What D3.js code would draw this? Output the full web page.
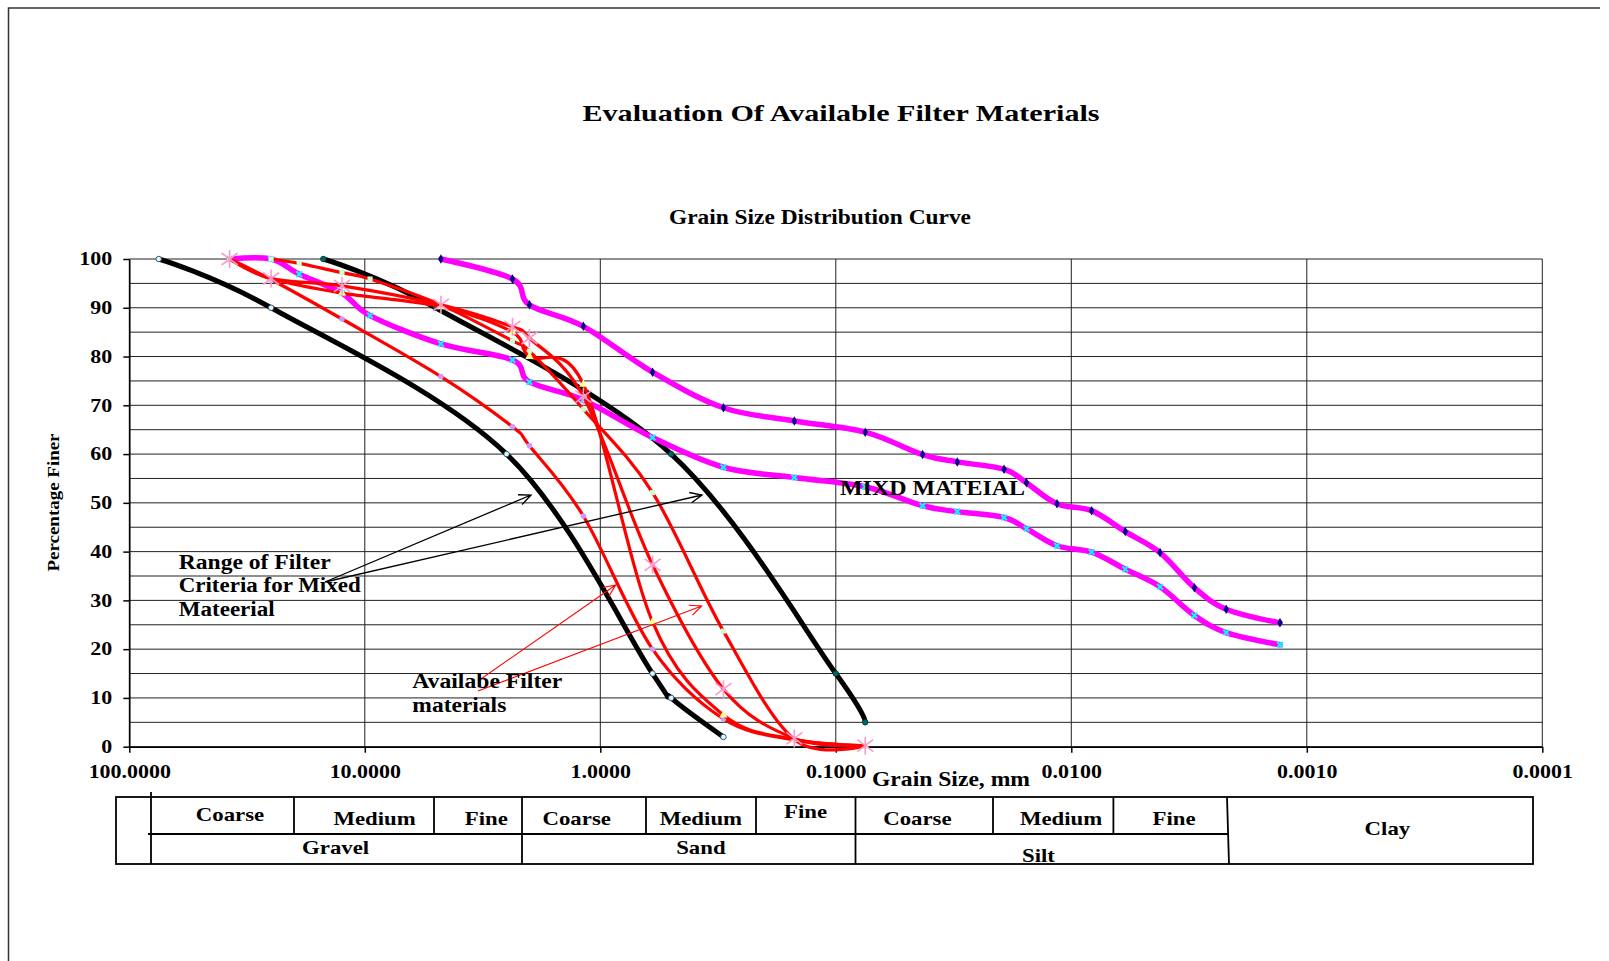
<!DOCTYPE html>
<html>
<head>
<meta charset="utf-8">
<script src="https://cdn.jsdelivr.net/npm/d3@7"></script>
<style>
  body { margin: 0; background: #fff; }
  svg text { font-family: "Liberation Serif", "Times New Roman", serif; font-weight: bold; fill: #000; }
</style>
</head>
<body>
<svg id="chart" width="1609" height="961"></svg>
<script>
// sieve + hydrometer sizes (mm)
const hydroSizes = [0.0428, 0.0305, 0.0193, 0.0155, 0.0115, 0.0082, 0.0059, 0.0042, 0.0030, 0.0022, 0.0013];
const filterSizes = [37.5, 25, 12.5, 4.75, 2.36, 2.0, 1.18, 0.6, 0.3, 0.15, 0.075];
const greenSizes = [25, 19, 12.5, 9.5, 4.75, 2.36, 2.0, 1.18, 0.6, 0.3, 0.15, 0.075];

// filter criteria range (black)
const lowerLimitSizes = [75, 25, 2.5, 0.6, 0.5, 0.3];
const lowerLimitFiner = [100, 90, 60, 15, 10, 2];
const upperLimitSizes = [15, 5, 0.5, 0.1, 0.075];
const upperLimitFiner = [100, 90, 60, 15, 5];

// mixed material (magenta)
const mixUpperSizes = [4.75, 2.36, 2.0, 1.18, 0.6, 0.3, 0.15, 0.075, ...hydroSizes];
const mixUpperFiner = [100, 95.9, 90.6, 86.2, 76.8, 69.5, 66.8, 64.5, 59.9, 58.4, 56.9, 54.1, 49.8, 48.4, 44.1, 39.8, 32.6, 28.2, 25.4];
const mixLowerSizes = [37.5, 25, 19, 12.5, 9.5, 4.75, 2.36, 2.0, 1.18, 0.6, 0.3, 0.15, 0.075, ...hydroSizes];
const mixLowerFiner = [100, 100, 96.9, 93.0, 88.4, 82.6, 79.3, 74.8, 71.1, 63.4, 57.3, 55.2, 53.3, 49.4, 48.2, 47.0, 44.7, 41.2, 39.9, 36.4, 32.8, 26.9, 23.4, 20.9];

// available filter materials (red)
const filterAFiner = [100, 95.8, 87.7, 75.9, 65.6, 61.7, 47.3, 20.0, 5.7, 1.4, 0.2];
const filterBFiner = [100, 99.1, 97.2, 95.9, 90.6, 83.2, 81.1, 69.2, 52.1, 23.7, 1.5, 0.2];
const filterCFiner = [100, 96.0, 93.0, 90.2, 85.0, 80.0, 74.3, 25.6, 6.5, 1.5, 0.2];
const filterDFiner = [100, 96.0, 94.5, 90.6, 86.1, 83.8, 71.8, 37.3, 11.8, 1.7, 0.2];

const xTicks = [100, 10, 1, 0.1, 0.01, 0.001, 0.0001];
const yTicks = d3.range(0, 101, 10);
const yGrid = d3.range(0, 101, 5);

const subLabels = ["Coarse", "Medium", "Fine", "Coarse", "Medium", "Fine", "Coarse", "Medium", "Fine"];
const groupLabels = ["Gravel", "Sand", "Silt", "Clay"];

const svg = d3.select('#chart');

const x = d3.scaleLog().domain([100, 0.0001]).range([129.3, 1542.3]);
const y = d3.scaleLinear().domain([0, 100]).range([746.7, 259]);

// stretch text horizontally (Garamond in the original is wider than Times)
const widen = (sel, k) => sel.each(function() {
    const len = this.getComputedTextLength();
    d3.select(this).attr('textLength', len * k).attr('lengthAdjust', 'spacingAndGlyphs');
});

// outer frame
svg.append('path')
    .attr('d', 'M8.5,961V8H1600')
    .attr('fill', 'none')
    .attr('stroke', '#333')
    .attr('stroke-width', 1.5);

svg.append('text')
    .attr('x', 841).attr('y', 121)
    .attr('text-anchor', 'middle')
    .attr('font-size', 24)
    .text('Evaluation Of Available Filter Materials')
    .attr('textLength', 517).attr('lengthAdjust', 'spacingAndGlyphs');

svg.append('text')
    .attr('x', 820).attr('y', 224)
    .attr('text-anchor', 'middle')
    .attr('font-size', 20)
    .text('Grain Size Distribution Curve')
    .attr('textLength', 302).attr('lengthAdjust', 'spacingAndGlyphs');

// grid
const grid = svg.append('g').attr('stroke', '#222').attr('stroke-width', 1);
grid.selectAll('.hgrid')
    .data(yGrid)
    .join('line')
    .attr('class', 'hgrid')
    .attr('x1', x(100)).attr('x2', x(0.0001))
    .attr('y1', d => y(d)).attr('y2', d => y(d));
grid.selectAll('.vgrid')
    .data(xTicks)
    .join('line')
    .attr('class', 'vgrid')
    .attr('x1', d => x(d)).attr('x2', d => x(d))
    .attr('y1', y(0)).attr('y2', y(100));

// axes
const yAxis = svg.append('g')
    .attr('transform', `translate(${x(100)},0)`)
    .call(d3.axisLeft(y).tickValues(yTicks).tickSize(6).tickSizeOuter(0).tickPadding(11).tickFormat(d3.format('d')))
    .attr('font-size', 18);
const xAxis = svg.append('g')
    .attr('transform', `translate(0,${y(0)})`)
    .call(d3.axisBottom(x).tickValues(xTicks).tickSize(6).tickSizeOuter(0).tickPadding(13).tickFormat(d3.format('.4f')))
    .attr('font-size', 18);
[yAxis, xAxis].forEach(a => {
    a.selectAll('.domain, line').attr('stroke', '#000').attr('stroke-width', 1.5);
    widen(a.selectAll('text'), 1.22);
});

svg.append('text')
    .attr('transform', 'translate(59,502.5) rotate(-90)')
    .attr('text-anchor', 'middle')
    .attr('font-size', 17)
    .text('Percentage Finer')
    .attr('textLength', 138).attr('lengthAdjust', 'spacingAndGlyphs');

svg.append('text')
    .attr('x', 951).attr('y', 786)
    .attr('text-anchor', 'middle')
    .attr('font-size', 20)
    .text('Grain Size, mm')
    .attr('textLength', 158).attr('lengthAdjust', 'spacingAndGlyphs');

// markers
const markerShapes = {
    circle: d3.symbol(d3.symbolCircle, 24)(),
    square: d3.symbol(d3.symbolSquare, 26)(),
    triangle: d3.symbol(d3.symbolTriangle, 30)(),
    diamond: d3.symbol(d3.symbolDiamond, 26)(),
    cross: 'M-2.8,-2.8L2.8,2.8M-2.8,2.8L2.8,-2.8',
    star: 'M-8,-6L8,6M-8,6L8,-6M0,-9L0,9'
};

const series = [
    {sizes: lowerLimitSizes, finer: lowerLimitFiner, color: '#000', width: 5, marker: 'circle', fill: '#ccffff', stroke: '#335'},
    {sizes: upperLimitSizes, finer: upperLimitFiner, color: '#000', width: 5, marker: 'circle', fill: '#006666', stroke: '#003333'},
    {sizes: mixUpperSizes, finer: mixUpperFiner, color: '#ff00ff', width: 5.5, marker: 'diamond', fill: '#000080', stroke: 'none'},
    {sizes: mixLowerSizes, finer: mixLowerFiner, color: '#ff00ff', width: 5.5, marker: 'cross', fill: 'none', stroke: '#00ffff'},
    {sizes: filterSizes, finer: filterAFiner, color: '#ff0000', width: 3.2, marker: 'circle', fill: '#cc99ff', stroke: 'none'},
    {sizes: greenSizes, finer: filterBFiner, color: '#ff0000', width: 3.2, marker: 'square', fill: '#ccffcc', stroke: 'none'},
    {sizes: filterSizes, finer: filterCFiner, color: '#ff0000', width: 3.2, marker: 'triangle', fill: '#ffff99', stroke: 'none'},
    {sizes: filterSizes, finer: filterDFiner, color: '#ff0000', width: 3.2, marker: 'star', fill: 'none', stroke: '#ff99cc'}
];

const line = d3.line()
    .x(d => x(d[0]))
    .y(d => y(d[1]))
    .curve(d3.curveCatmullRom.alpha(0));

series.forEach(s => {
    const pts = s.sizes.map((v, i) => [v, s.finer[i]]);
    const g = svg.append('g');
    g.append('path')
        .attr('d', line(pts))
        .attr('fill', 'none')
        .attr('stroke', s.color)
        .attr('stroke-width', s.width)
        .attr('stroke-linejoin', 'round')
        .attr('stroke-linecap', 'round');
    g.selectAll('.marker')
        .data(pts)
        .join('path')
        .attr('class', 'marker')
        .attr('transform', d => `translate(${x(d[0])},${y(d[1])})`)
        .attr('d', markerShapes[s.marker])
        .attr('fill', s.fill)
        .attr('stroke', s.stroke)
        .attr('stroke-width', s.marker === 'star' ? 1.6 : (s.marker === 'cross' ? 2 : 0.8));
});

// annotations
const arrow = (x1, y1, x2, y2, color, w) => {
    const a = Math.atan2(y2 - y1, x2 - x1), len = 13, spread = 0.42;
    svg.append('path')
        .attr('d', `M${x1},${y1}L${x2},${y2}` +
            `M${x2 - len * Math.cos(a - spread)},${y2 - len * Math.sin(a - spread)}L${x2},${y2}` +
            `L${x2 - len * Math.cos(a + spread)},${y2 - len * Math.sin(a + spread)}`)
        .attr('fill', 'none')
        .attr('stroke', color)
        .attr('stroke-width', w);
};
arrow(325, 582, 531, 495, '#000', 1.3);
arrow(325, 582, 702, 495, '#000', 1.3);
arrow(478, 681, 615.7, 585, '#ff0000', 1.1);
arrow(478, 691, 701.7, 606, '#ff0000', 1.1);

const note = (lines, x0, y0, size, widths) => {
    lines.forEach((t, i) => {
        svg.append('text')
            .attr('x', x0).attr('y', y0 + i * 23.3)
            .attr('font-size', size)
            .text(t)
            .attr('textLength', widths[i]).attr('lengthAdjust', 'spacingAndGlyphs');
    });
};
note(['Range of Filter', 'Criteria for Mixed', 'Mateerial'], 178.7, 569, 20, [152, 182, 96]);
note(['Availabe Filter', 'materials'], 412.3, 688.3, 20, [150, 94]);
note(['MIXD MATEIAL'], 840, 495, 20, [185]);

// soil classification table
const table = svg.append('g').attr('fill', 'none').attr('stroke', '#000').attr('stroke-width', 1.8);
table.append('rect').attr('x', 116).attr('y', 797).attr('width', 1417).attr('height', 67);
table.append('path').attr('d',
    'M151,792V864 M148,834H1228 M522,797V864 M855.5,797V864 M1227,797L1229,864' +
    ' M294,797V834 M434,797V834 M646,797V834 M756,797V834 M993,797V834 M1113.4,797V834');

const subX = [230, 374.6, 486.4, 576.7, 700.9, 805.6, 917.4, 1061.1, 1174];
const subY = [821, 825, 825, 825, 825, 817.5, 825, 825, 825];
const groupX = [335.6, 700.9, 1038.5, 1387.4];
const groupY = [854, 854, 861.5, 835];

const tableText = svg.append('g').attr('font-size', 19).attr('text-anchor', 'middle');
tableText.selectAll('.sub')
    .data(subLabels)
    .join('text')
    .attr('class', 'sub')
    .attr('x', (d, i) => subX[i]).attr('y', (d, i) => subY[i])
    .text(d => d);
tableText.selectAll('.group')
    .data(groupLabels)
    .join('text')
    .attr('class', 'group')
    .attr('x', (d, i) => groupX[i]).attr('y', (d, i) => groupY[i])
    .text(d => d);
widen(tableText.selectAll('text'), 1.2);
</script>
</body>
</html>
